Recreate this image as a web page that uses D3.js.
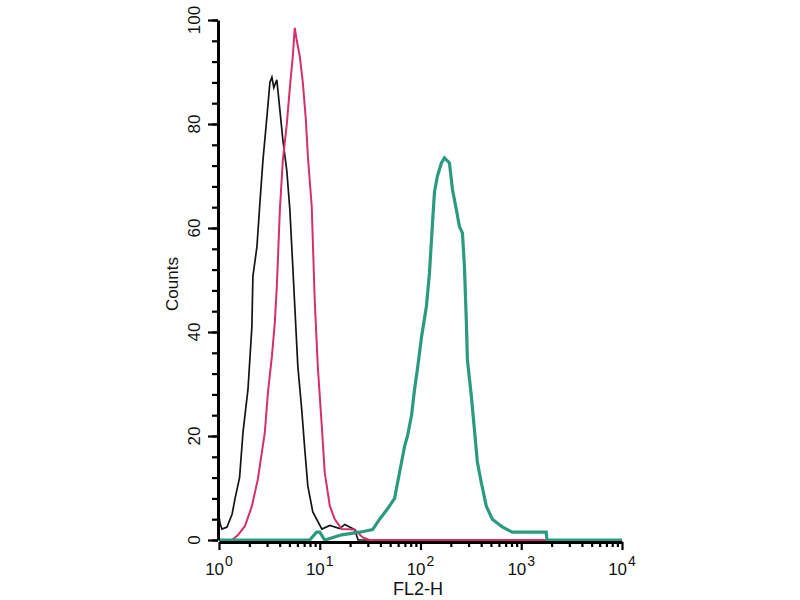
<!DOCTYPE html>
<html>
<head>
<meta charset="utf-8">
<script src="https://cdn.jsdelivr.net/npm/d3@7"></script>
<style>
  html, body { margin: 0; padding: 0; background: #fff; }
  svg { display: block; }
  text { font-family: "Liberation Sans", Arial, sans-serif; fill: #111; }
</style>
</head>
<body>
<svg id="chart" width="800" height="600"></svg>
<script>
// ---- data (FL2-H value, counts) ----
const controlFL2 =    [1.0, 1.03, 1.07, 1.2, 1.35, 1.44, 1.6, 1.73, 1.94, 2.12, 2.17, 2.38, 2.55, 2.73, 2.99, 3.2, 3.35, 3.5, 3.75, 4.02, 4.3, 4.71, 5.05, 5.4, 5.65, 6.06, 6.63, 7.1, 7.61, 8.53, 10.5, 12.6, 15.8, 17.7, 19.8, 22.2, 24, 10000];
const controlCounts = [4.5, 3,    2.1,  2.5, 5,    7.9,  12,  20.7, 29,   41,   50.7, 56.4, 65,   73,   81.4, 88,  89,   87,  88.5, 82.7, 77,  71,   63.5, 52.6, 45,  33.4, 25,   17.5, 10.4, 5.4, 2.1,  2.8,  2.2,  3,    2.5,  2,    0,  0];

const isotypeFL2 =    [1.0, 1.35, 1.55, 1.81, 2.12, 2.43, 2.85, 3.06, 3.35, 3.58, 3.75, 4.02, 4.3, 4.71, 5.05, 5.4, 5.65, 5.92, 6.34, 6.79, 7.27, 7.61, 8.33, 8.92, 9.56, 10.47, 11.2, 12.6, 14.1, 16.5, 22.2, 26.7, 31.3, 10000];
const isotypeCounts = [0,   0,    1,    2.7,  6.5,  11.7, 20.7, 28.4, 35.3, 41.8, 48.8, 63.5, 73,  80,   87,   93,  98.5, 96,   93,   88,   81,   74,   64,   46,   33.4, 22,    13,   6.5,  4,    2.1,  2,    0.5,  0,    0];

const stainedFL2 =    [1.0, 7.96, 9.3, 10, 11.2, 16.5, 24.9, 33.5, 39.3, 47.1, 55.3, 59.2, 64.9, 69.5, 74.3, 81.5, 87.3, 93.4, 102.3, 114.6, 122.8, 131.6, 137.7, 147.3, 161.4, 172.9, 193.8, 207.6, 227.1, 243.4, 260.8, 272.9, 285.4, 292, 319.9, 342.8, 366.7, 401.7, 449.8, 516.5, 648.6, 814.4, 1769, 1800, 10000];
const stainedCounts = [0,   0,    1.5, 1.5, 0,   1,    1.5,  2,    4,    6,    8,    11,   15,   18,   20,   24,   29,   33,   39,    45,    51.4,  61,    67,    70,    72.5,  73.5,  72.5,  67.4,  63.5,  60.3,  59,    52.6,  41.8,  34.7, 27.6,  21.3,  15,    11,    6.5,   4,     2.5,   1.5,   1.5,  0,    0];

const yMajorTicks = [0, 20, 40, 60, 80, 100];
const yMinorTicks = d3.range(0, 101, 4);
const xMajorTicks = [1, 10, 100, 1000, 10000];
const xExponents = ["0", "1", "2", "3", "4"];
const xLabel = "FL2-H";
const yLabel = "Counts";

const series = [
  { fl2: controlFL2, counts: controlCounts, color: "#141414", width: 1.7 },
  { fl2: isotypeFL2, counts: isotypeCounts, color: "#d42e6c", width: 2 },
  { fl2: stainedFL2, counts: stainedCounts, color: "#2a9a80", width: 3.2 }
];

// ---- scales ----
const x = d3.scaleLog().domain([1, 10000]).range([219, 622]);
const y = d3.scaleLinear().domain([0, 100]).range([540, 20]);

const svg = d3.select("#chart");
const axisColor = "#000";
const axisY0 = y(0) + 2;
const axisX0 = x(1) - 1;

// ---- curves ----
const line = d3.line()
  .x(d => x(d[0]))
  .y(d => y(d[1]))
  .curve(d3.curveLinear);

series.forEach(s => {
  const pts = s.fl2.map((v, i) => [v, s.counts[i]]);
  svg.append("path")
    .datum(pts)
    .attr("d", line)
    .style("fill", "none")
    .style("stroke", s.color)
    .style("stroke-width", s.width)
    .style("stroke-linejoin", "miter");
});

// ---- axes (drawn from the scales, on top of the curves) ----
const xMinor = [];
for (let d = 1; d < 10000; d *= 10) for (let k = 2; k <= 9; k++) xMinor.push(d * k);

const gx = svg.append("g").attr("transform", `translate(0,${axisY0})`);
gx.call(d3.axisBottom(x).tickValues(xMinor).tickSize(5).tickSizeOuter(0).tickFormat(""));
gx.select(".domain").remove();
const gx2 = svg.append("g").attr("transform", `translate(0,${axisY0})`);
gx2.call(d3.axisBottom(x).tickValues(xMajorTicks).tickSize(8).tickSizeOuter(0).tickFormat(""));

const gy = svg.append("g").attr("transform", `translate(${axisX0},0)`);
gy.call(d3.axisLeft(y).tickValues(yMinorTicks).tickSize(6).tickSizeOuter(0).tickFormat(""));
gy.select(".domain").remove();
const gy2 = svg.append("g").attr("transform", `translate(${axisX0},0)`);
gy2.call(d3.axisLeft(y).tickValues(yMajorTicks).tickSize(10).tickSizeOuter(0).tickFormat(""));

svg.selectAll(".tick line").style("stroke", axisColor).style("stroke-width", 2.2);
svg.selectAll(".domain").style("stroke", axisColor).style("stroke-width", 3);

// ---- y tick labels (rotated) ----
svg.append("g").selectAll("text")
  .data(yMajorTicks)
  .join("text")
  .attr("x", 200)
  .attr("y", d => y(d))
  .attr("transform", d => `rotate(-90,200,${y(d)})`)
  .attr("text-anchor", "middle")
  .attr("font-size", 17)
  .text(d => d);

// ---- x tick labels with superscript exponents ----
const xl = svg.append("g").selectAll("text")
  .data(xMajorTicks)
  .join("text")
  .attr("x", d => x(d))
  .attr("y", 575)
  .attr("text-anchor", "middle")
  .attr("font-size", 17);
xl.append("tspan").text("10");
xl.append("tspan")
  .attr("font-size", 14)
  .attr("dy", -9)
  .attr("dx", 1)
  .text((d, i) => xExponents[i]);

// ---- axis titles ----
svg.append("text")
  .attr("x", 418)
  .attr("y", 595)
  .attr("text-anchor", "middle")
  .attr("font-size", 18)
  .text(xLabel);

svg.append("text")
  .attr("x", 178)
  .attr("y", 284)
  .attr("transform", "rotate(-90,178,284)")
  .attr("text-anchor", "middle")
  .attr("font-size", 17)
  .text(yLabel);
</script>
</body>
</html>
